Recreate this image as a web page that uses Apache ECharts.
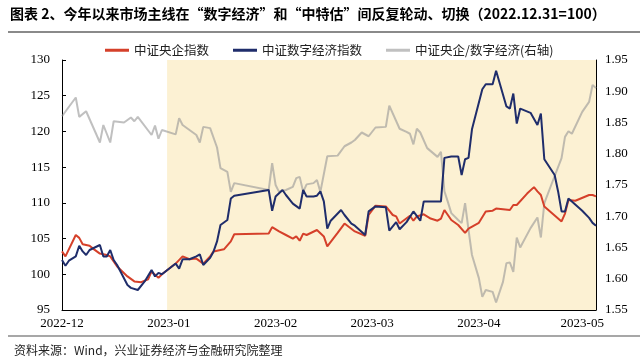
<!DOCTYPE html>
<html><head><meta charset="utf-8">
<script src="https://cdn.jsdelivr.net/npm/echarts@6/dist/echarts.min.js"></script>
<style>html,body{margin:0;padding:0;background:#fff}#c{width:640px;height:359px}</style>
</head><body><div id="c"></div>
<script>
const titleText = '图表 2、今年以来市场主线在“数字经济”和“中特估”间反复轮动、切换（2022.12.31=100）';
const sourceText = '资料来源：Wind，兴业证券经济与金融研究院整理';
const seriesNames = ['中证央企指数', '中证数字经济指数', '中证央企/数字经济(右轴)'];
const monthTicks = ['2022-12-01','2023-01-01','2023-02-01','2023-03-01','2023-04-01','2023-05-01'];
const axisStart = '2022-12-01';
const axisEnd = '2023-05-05';
const shadeStart = '2022-12-31';
const leftTicks = {min: 95, max: 130, interval: 5};
const rightTicks = {min: 1.55, max: 1.95, interval: 0.05};

const redDates = ['2022-12-01','2022-12-02','2022-12-05','2022-12-06','2022-12-07','2022-12-09','2022-12-10','2022-12-12','2022-12-14','2022-12-15','2022-12-17','2022-12-20','2022-12-22','2022-12-24','2022-12-26','2022-12-27','2022-12-29','2022-12-30',
'2023-01-03','2023-01-05','2023-01-07','2023-01-09','2023-01-11','2023-01-13','2023-01-14','2023-01-16','2023-01-17','2023-01-19','2023-01-20','2023-01-30','2023-01-31',
'2023-02-02','2023-02-04','2023-02-06','2023-02-07','2023-02-08','2023-02-09','2023-02-10','2023-02-13','2023-02-15','2023-02-16','2023-02-19','2023-02-21','2023-02-24','2023-02-27','2023-02-28',
'2023-03-02','2023-03-05','2023-03-07','2023-03-08','2023-03-09','2023-03-12','2023-03-13','2023-03-14','2023-03-16','2023-03-18','2023-03-20','2023-03-21','2023-03-22','2023-03-24','2023-03-26','2023-03-28','2023-03-29',
'2023-04-01','2023-04-03','2023-04-05','2023-04-06','2023-04-10','2023-04-11','2023-04-12','2023-04-15','2023-04-17','2023-04-18','2023-04-19','2023-04-20','2023-04-25','2023-04-26','2023-04-27','2023-04-29',
'2023-05-03','2023-05-04','2023-05-05'];
const redValues = [103.2,102.5,105.5,105.1,104.2,104.0,103.6,102.9,102.7,102.5,101.1,99.7,99.0,98.9,99.3,100.4,99.5,100.0,
101.5,102.5,102.1,102.2,101.5,102.5,103.2,103.4,103.5,104.6,105.6,105.7,106.6,
106.0,105.5,105.0,105.3,104.7,105.7,105.5,106.2,105.3,103.9,105.8,107.1,106.0,105.4,108.3,
109.6,109.5,108.3,108.1,107.1,108.2,107.5,108.1,108.4,107.8,107.5,107.8,109.0,107.6,106.9,105.8,106.4,
107.2,108.8,108.9,109.2,109.0,109.7,109.7,111.3,112.2,111.6,111.1,109.5,107.4,108.5,110.4,110.3,
111.1,111.1,110.9];

const navyDates = ['2022-12-01','2022-12-02','2022-12-03','2022-12-05','2022-12-06','2022-12-07','2022-12-08','2022-12-09','2022-12-12','2022-12-13','2022-12-14','2022-12-15','2022-12-16','2022-12-17','2022-12-20','2022-12-21','2022-12-23','2022-12-25','2022-12-27','2022-12-28','2022-12-29','2022-12-30',
'2023-01-03','2023-01-04','2023-01-05','2023-01-07','2023-01-09','2023-01-10','2023-01-11','2023-01-13','2023-01-14','2023-01-15','2023-01-16','2023-01-18','2023-01-19','2023-01-20','2023-01-30','2023-01-31',
'2023-02-01','2023-02-03','2023-02-04','2023-02-06','2023-02-08','2023-02-09','2023-02-10','2023-02-12','2023-02-13','2023-02-14','2023-02-15','2023-02-16','2023-02-17','2023-02-20','2023-02-21','2023-02-23','2023-02-24','2023-02-27','2023-02-28',
'2023-03-02','2023-03-05','2023-03-06','2023-03-08','2023-03-09','2023-03-11','2023-03-13','2023-03-15','2023-03-16','2023-03-21','2023-03-22','2023-03-24','2023-03-26','2023-03-27','2023-03-28','2023-03-29','2023-03-30',
'2023-04-02','2023-04-03','2023-04-05','2023-04-06','2023-04-09','2023-04-10','2023-04-11','2023-04-12','2023-04-13','2023-04-16','2023-04-18','2023-04-19','2023-04-20','2023-04-23','2023-04-24','2023-04-25','2023-04-26','2023-04-27','2023-04-28',
'2023-05-01','2023-05-03','2023-05-04','2023-05-05'];
const navyValues = [102.0,101.2,101.9,102.5,104.0,103.2,102.7,103.4,104.1,102.5,102.5,103.4,102.0,101.3,98.5,98.1,97.8,99.0,100.6,99.7,100.2,100.0,
101.5,100.8,102.1,102.1,102.5,102.8,101.3,102.3,103.2,104.6,106.9,107.6,110.6,111.0,111.8,108.9,
110.9,111.8,111.1,109.9,109.2,111.8,110.9,110.9,111.0,111.6,110.2,106.4,107.5,109.0,108.3,107.1,106.8,105.5,108.8,
109.5,109.4,106.1,107.3,106.3,107.3,108.8,107.5,110.2,110.2,116.3,116.5,116.5,113.9,116.1,116.3,120.3,
125.9,126.6,126.6,128.5,123.5,123.2,125.3,121.1,123.2,122.6,120.9,122.5,116.1,113.9,111.6,108.8,108.8,110.6,110.2,
108.9,107.9,107.2,106.8];

const ratioDates = ['2022-12-01','2022-12-05','2022-12-06','2022-12-08','2022-12-12','2022-12-13','2022-12-15','2022-12-16','2022-12-19','2022-12-21','2022-12-22','2022-12-23','2022-12-27','2022-12-28','2022-12-29','2022-12-30',
'2023-01-03','2023-01-04','2023-01-05','2023-01-09','2023-01-10','2023-01-11','2023-01-13','2023-01-15','2023-01-16','2023-01-18','2023-01-19','2023-01-20','2023-01-30','2023-01-31',
'2023-02-01','2023-02-02','2023-02-04','2023-02-06','2023-02-07','2023-02-08','2023-02-09','2023-02-10','2023-02-12','2023-02-13','2023-02-14','2023-02-16','2023-02-19','2023-02-21','2023-02-23','2023-02-24','2023-02-26','2023-02-28',
'2023-03-02','2023-03-05','2023-03-06','2023-03-09','2023-03-11','2023-03-12','2023-03-13','2023-03-14','2023-03-15','2023-03-17','2023-03-20','2023-03-21','2023-03-22','2023-03-23','2023-03-24','2023-03-26','2023-03-27','2023-03-28','2023-03-29','2023-03-30',
'2023-04-01','2023-04-02','2023-04-03','2023-04-05','2023-04-06','2023-04-08','2023-04-09','2023-04-10','2023-04-11','2023-04-12','2023-04-13','2023-04-16','2023-04-18','2023-04-19','2023-04-20','2023-04-22','2023-04-25','2023-04-26','2023-04-27','2023-04-28',
'2023-05-01','2023-05-03','2023-05-04','2023-05-05'];
const ratioValues = [1.860,1.890,1.859,1.868,1.818,1.846,1.818,1.852,1.850,1.858,1.852,1.859,1.830,1.845,1.824,1.838,
1.831,1.857,1.846,1.830,1.818,1.843,1.841,1.810,1.777,1.771,1.739,1.753,1.742,1.785,
1.750,1.739,1.742,1.747,1.761,1.763,1.739,1.751,1.753,1.758,1.739,1.796,1.797,1.812,1.818,1.822,1.834,1.828,
1.842,1.843,1.877,1.840,1.835,1.832,1.815,1.840,1.834,1.809,1.795,1.803,1.740,1.723,1.705,1.694,1.689,1.721,1.678,1.638,
1.601,1.571,1.582,1.579,1.562,1.595,1.625,1.626,1.611,1.666,1.650,1.681,1.698,1.666,1.721,1.750,1.793,1.827,1.836,1.832,
1.867,1.883,1.910,1.905];

const ts = s => new Date(s + 'T00:00:00').getTime();
const pairs = (ds, vs) => ds.map((d, i) => [ts(d), vs[i]]);
const tickTs = monthTicks.map(ts);
const serifNum = 'Liberation Serif';

const chart = echarts.init(document.getElementById('c'), null, {renderer: 'canvas'});
chart.setOption({
  animation: false,
  backgroundColor: '#fff',
  grid: {left: 62, right: 44, top: 60, bottom: 49},
  legend: {
    top: 39, left: 100, itemWidth: 24, itemHeight: 3, itemGap: 24, icon: 'rect',
    data: seriesNames,
    textStyle: {fontFamily: 'Noto Sans CJK SC', fontSize: 12.5, color: '#222'}
  },
  xAxis: {
    type: 'value', min: ts(axisStart), max: ts(axisEnd),
    axisLine: {lineStyle: {color: '#000', width: 1}},
    axisTick: {customValues: tickTs, inside: true, length: 4, lineStyle: {color: '#000'}},
    axisLabel: {
      customValues: tickTs, margin: 7, color: '#000', fontFamily: serifNum, fontSize: 13,
      formatter: v => { const d = new Date(v); return d.getFullYear() + '-' + String(d.getMonth() + 1).padStart(2, '0'); }
    },
    splitLine: {show: false}
  },
  yAxis: [
    {type: 'value', position: 'left', min: leftTicks.min, max: leftTicks.max, interval: leftTicks.interval,
     axisLine: {show: true, lineStyle: {color: '#000'}},
     axisTick: {show: true, inside: true, length: 4, lineStyle: {color: '#000'}},
     axisLabel: {margin: 12, color: '#000', fontFamily: serifNum, fontSize: 13},
     splitLine: {show: false}},
    {type: 'value', position: 'right', min: rightTicks.min, max: rightTicks.max, interval: rightTicks.interval,
     axisLine: {show: true, lineStyle: {color: '#000'}},
     axisTick: {show: true, inside: true, length: 4, lineStyle: {color: '#000'}},
     axisLabel: {margin: 9, color: '#000', fontFamily: serifNum, fontSize: 13, formatter: v => v.toFixed(2)},
     splitLine: {show: false}}
  ],
  series: [
    {type: 'line', data: [], z: 0, silent: true,
     markArea: {silent: true, itemStyle: {color: '#fcf1d3'}, data: [[{xAxis: ts(shadeStart) + 12 * 3600e3}, {xAxis: ts(axisEnd)}]]}},
    {name: seriesNames[2], type: 'line', yAxisIndex: 1, data: pairs(ratioDates, ratioValues), symbol: 'none', z: 1,
     lineStyle: {width: 2, color: 'rgba(150,150,150,0.6)'}, itemStyle: {color: 'rgba(150,150,150,0.6)'}},
    {name: seriesNames[0], type: 'line', data: pairs(redDates, redValues), symbol: 'none', z: 2,
     lineStyle: {width: 2, color: '#d5402a'}, itemStyle: {color: '#d5402a'}},
    {name: seriesNames[1], type: 'line', data: pairs(navyDates, navyValues), symbol: 'none', z: 3,
     lineStyle: {width: 2, color: '#1f2d6b'}, itemStyle: {color: '#1f2d6b'}}
  ],
  graphic: [
    {type: 'text', x: 10, y: 14, style: {text: titleText, fontFamily: 'Noto Sans CJK SC', fontWeight: 'bold', fontSize: 14, fill: '#000', verticalAlign: 'middle'}},
    {type: 'line', shape: {x1: 8, y1: 32, x2: 640, y2: 32}, style: {stroke: '#8a8a8a', lineWidth: 2}},
    {type: 'line', shape: {x1: 8, y1: 336, x2: 640, y2: 336}, style: {stroke: '#8a8a8a', lineWidth: 1.5}},
    {type: 'text', x: 14, y: 350, style: {text: sourceText, fontFamily: 'Noto Sans CJK SC', fontSize: 12, fill: '#222', verticalAlign: 'middle'}}
  ]
});
</script></body></html>
